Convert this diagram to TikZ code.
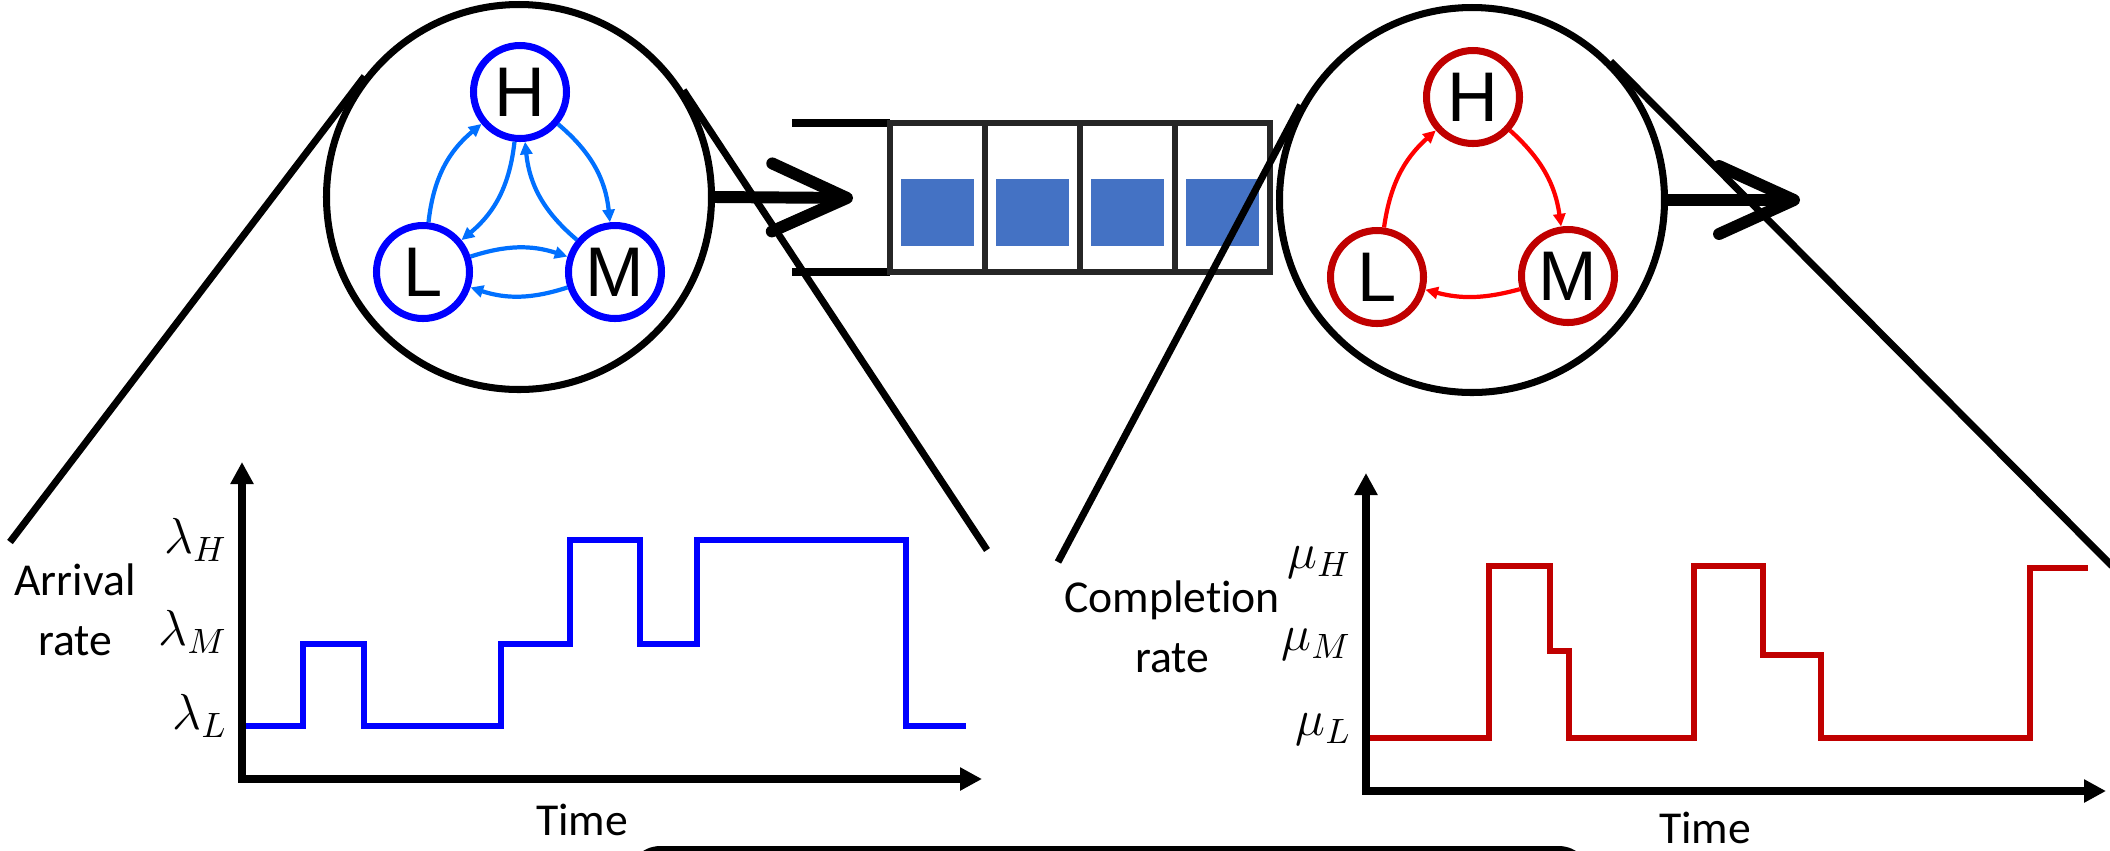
\documentclass[tikz,border=0pt]{standalone}
\usepackage{fontspec}
\setmainfont{Carlito}[Ligatures=NoCommon]
\newfontfamily\statefont{Liberation Sans}
\usetikzlibrary{arrows.meta,calc,positioning}

\definecolor{stateblue}{RGB}{0,0,255}
\definecolor{edgeblue}{RGB}{0,112,255}
\definecolor{statered}{RGB}{192,0,0}
\definecolor{edgered}{RGB}{255,0,0}
\definecolor{jobblue}{RGB}{68,114,196}
\definecolor{slotgray}{RGB}{38,38,38}

\begin{document}
\begin{tikzpicture}[
  x=0.1mm, y=-0.1mm,
  lens/.style = {circle, draw, line width=2pt, minimum size=3.85cm, inner sep=0pt},
  state/.style = {circle, draw, line width=2pt, minimum size=0.93cm,
    inner sep=0pt, fill=white, font=\statefont\fontsize{20}{20}\selectfont},
  trans/.style = {line width=1.2pt, -{Triangle[length=3.6pt,width=3.4pt]}},
  zoomline/.style = {line width=2pt},
  flow/.style = {line width=3.4pt, -{Straight Barb[length=7.5mm,width=6.8mm,round]}},
  slot/.style = {draw=slotgray, line width=1.8pt},
  axis/.style = {line width=2.2pt,
    {Triangle[length=2.2mm,width=2.2mm]}-{Triangle[length=2.2mm,width=2.2mm]}},
  level/.style = {font=\fontsize{14}{16}\selectfont, anchor=east, inner sep=0pt},
  caption/.style = {font=\fontsize{13}{17}\selectfont, align=center, inner sep=0pt}
  ]
  \clip (0,0) rectangle (2110,850);

  % arrival side: lens with the blue chain
  \node[lens] (lc) at (519,197) {};
  \node[state, draw=stateblue] (bH) at (520,92) {H};
  \node[state, draw=stateblue] (bL) at (423,272) {L};
  \node[state, draw=stateblue] (bM) at (615,272) {M};
  \begin{scope}[edgeblue]
    \draw[trans] (bL) to[bend left=22] (bH);
    \draw[trans] (bH) to[bend left=22] (bL);
    \draw[trans] (bH) to[bend left=22] (bM);
    \draw[trans] (bM) to[bend left=22] (bH);
    \draw[trans] (bL) to[bend left=18] (bM);
    \draw[trans] (bM) to[bend left=18] (bL);
  \end{scope}

  % service side: lens with the red chain
  \node[lens] (rc) at (1472,200) {};
  \node[state, draw=statered] (rH) at (1473,97) {H};
  \node[state, draw=statered] (rL) at (1377,277) {L};
  \node[state, draw=statered] (rM) at (1568,276) {M};
  \begin{scope}[edgered]
    \draw[trans] (rL) to[bend left=20] (rH);
    \draw[trans] (rH) to[bend left=20] (rM);
    \draw[trans] (rM) to[bend left=15] (rL);
  \end{scope}

  % queue
  \draw[zoomline] (792,123) -- (890,123);
  \draw[zoomline] (792,272) -- (890,272);
  \foreach \i in {0,...,3} {
    \draw[slot] (890+95*\i,123) rectangle ++(95,149);
    \fill[jobblue] (901+95*\i,179) rectangle ++(73,67);
  }
  \coordinate (qin) at (853,198);
  \coordinate (qout) at (1800,200);
  \draw[flow] (lc.east) -- (qin);
  \draw[flow] (rc.east) -- (qout);

  % arrival rate over time
  \coordinate (aTop) at (242,462);
  \coordinate (aEnd) at (982,779);
  \draw[axis] (aTop) |- (aEnd);
  \node[level] (lamH) at (228,540) {$\lambda_H$};
  \node[level] (lamM) at (228,632) {$\lambda_M$};
  \node[level] (lamL) at (228,716) {$\lambda_L$};
  \node[caption] (arr) at (75,610) {Arrival\\rate};
  \node[caption] (tA) at (582,820) {Time};
  \draw[stateblue, line width=1.5pt] (246,726) -- (303,726) -- (303,644)
    -- (364,644) -- (364,726) -- (501,726) -- (501,644) -- (570,644)
    -- (570,540) -- (640,540) -- (640,644) -- (697,644) -- (697,540)
    -- (906,540) -- (906,726) -- (966,726);

  % completion rate over time
  \coordinate (sTop) at (1366,473);
  \coordinate (sEnd) at (2106,791);
  \draw[axis] (sTop) |- (sEnd);
  \node[level] (muH) at (1352,563) {$\mu_H$};
  \node[level] (muM) at (1352,645) {$\mu_M$};
  \node[level] (muL) at (1352,730) {$\mu_L$};
  \node[caption] (cmp) at (1172,627) {Completion\\rate};
  \node[caption] (tS) at (1705,828) {Time};
  \draw[statered, line width=1.5pt] (1370,738) -- (1489,738) -- (1489,566)
    -- (1550,566) -- (1550,651) -- (1569,651) -- (1569,738) -- (1694,738)
    -- (1694,566) -- (1763,566) -- (1763,655) -- (1821,655) -- (1821,738)
    -- (2030,738) -- (2030,568) -- (2088,568);

  % zoom lines from the lenses down to the plots
  \coordinate (zA) at (10,542);
  \coordinate (zB) at (987,550);
  \coordinate (zC) at (1058,562);
  \coordinate (zD) at (2112,566);
  \draw[zoomline] (zA) -- (lc.142.4);
  \draw[zoomline] (zB) -- (lc.33.8);
  \draw[zoomline] (zC) -- (rc.151.7);
  \draw[zoomline] (zD) -- (rc.45);

  % box below, cut by the edge
  \node[draw, line width=2pt, rounded corners=3mm, minimum width=9.58cm,
    minimum height=2cm, anchor=north west] (note) at (627,846) {};
\end{tikzpicture}
\end{document}
